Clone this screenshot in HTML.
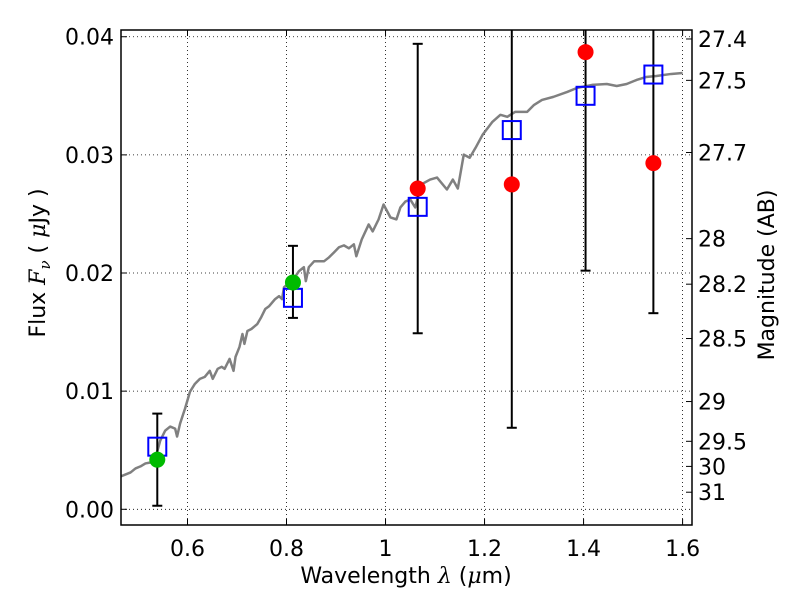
<!DOCTYPE html>
<html><head><meta charset="utf-8"><style>
body{margin:0;background:#fff;}
svg{font-family:"DejaVu Sans","Liberation Sans",sans-serif;}
</style></head><body>
<svg id="chart" width="800" height="600" viewBox="0 0 800 600"></svg>
<script>
const specLam=[0.465,0.475,0.485,0.495,0.505,0.515,0.525,0.535,0.545,0.555,0.565,0.575,0.579,0.585,0.595,0.605,0.615,0.625,0.635,0.645,0.651,0.661,0.669,0.675,0.685,0.693,0.697,0.705,0.711,0.715,0.721,0.729,0.741,0.749,0.757,0.765,0.777,0.785,0.791,0.795,0.805,0.817,0.825,0.835,0.839,0.845,0.856,0.866,0.876,0.886,0.896,0.906,0.916,0.926,0.936,0.941,0.952,0.966,0.974,0.986,0.996,1.010,1.022,1.030,1.040,1.050,1.060,1.072,1.090,1.104,1.124,1.136,1.146,1.158,1.170,1.182,1.196,1.216,1.232,1.246,1.262,1.286,1.300,1.316,1.339,1.367,1.387,1.417,1.447,1.467,1.487,1.507,1.526,1.547,1.577,1.600];
const specFlux=[.00278,.00295,.00312,.00346,.00363,.00388,.00396,.0043,.00582,.00666,.007,.00683,.00616,.00725,.00852,.00995,.01062,.01104,.01121,.01172,.01104,.01189,.01206,.01189,.01273,.01172,.0129,.01374,.01484,.014,.01509,.01526,.01568,.01627,.01695,.0172,.01779,.01804,.01779,.0188,.01914,.01965,.02015,.02049,.01931,.02049,.021,.021,.021,.02133,.02175,.02218,.02234,.02209,.02243,.02142,.02285,.02411,.02352,.02454,.0258,.0247,.02454,.02555,.02605,.02622,.02555,.02749,.02791,.02808,.02707,.02791,.02715,.03002,.02976,.03061,.0317,.0328,.03339,.03322,.03364,.03364,.03423,.03465,.03491,.03533,.03567,.03592,.036,.03583,.036,.03634,.03659,.03668,.03685,.03693];
const greenLam=[0.539,0.813];
const greenFlux=[0.0042,0.0192];
const greenLo=[0.0003,0.0162];
const greenHi=[0.0081,0.0223];
const redLam=[1.065,1.255,1.404,1.541];
const redFlux=[0.02715,0.0275,0.0387,0.0293];
const redLo=[0.0149,0.0069,0.0202,0.0166];
const redHi=[0.0394,0.05,0.05,0.05];
const modelLam=[0.539,0.813,1.065,1.255,1.404,1.541];
const modelFlux=[0.0053,0.0179,0.0256,0.0321,0.0350,0.0368];
const xTicks=[0.6,0.8,1.0,1.2,1.4,1.6];
const xTickLabels=["0.6","0.8","1","1.2","1.4","1.6"];
const yTicks=[0,0.01,0.02,0.03,0.04];
const yTickLabels=["0.00","0.01","0.02","0.03","0.04"];
const magTicks=[27.4,27.5,27.7,28,28.2,28.5,29,29.5,30,31];
const magTickLabels=["27.4","27.5","27.7","28","28.2","28.5","29","29.5","30","31"];

const L=121,R=692,T=30,B=525;
const X0=0.4657,X1=1.619,Y0=-0.00133,Y1=0.04057;
const xs=v=>L+(v-X0)/(X1-X0)*(R-L);
const ys=v=>B-(v-Y0)/(Y1-Y0)*(B-T);
const NS="http://www.w3.org/2000/svg";
const svg=document.getElementById('chart');
function mk(tag,attrs,parent){const e=document.createElementNS(NS,tag);for(const k in attrs)e.setAttribute(k,attrs[k]);(parent||svg).appendChild(e);return e;}
const clipDefs=mk('defs',{});
const cp=mk('clipPath',{id:'pc'},clipDefs);mk('rect',{x:L,y:T,width:R-L,height:B-T},cp);
const plot=mk('g',{'clip-path':'url(#pc)'});


xTicks.forEach(v=>{const g=mk('line',{x1:xs(v),x2:xs(v),y1:T,y2:B,stroke:'#000','stroke-width':0.8,'stroke-dasharray':'1,3'},plot);

});
yTicks.forEach(v=>{const g=mk('line',{x1:L,x2:R,y1:ys(v),y2:ys(v),stroke:'#000','stroke-width':0.8,'stroke-dasharray':'1,3'},plot);

});
const sp=mk('polyline',{points:specLam.map((l,i)=>xs(l)+','+ys(specFlux[i])).join(' '),fill:'none',stroke:'#808080','stroke-width':2.5,'stroke-linejoin':'round'},plot);


function ebar(l,lo,hi,name){const g=mk('g',{},plot);


const x=xs(l);mk('line',{x1:x,x2:x,y1:ys(lo),y2:ys(hi),stroke:'#000','stroke-width':2},g);
mk('line',{x1:x-5,x2:x+5,y1:ys(lo),y2:ys(lo),stroke:'#000','stroke-width':2},g);
mk('line',{x1:x-5,x2:x+5,y1:ys(hi),y2:ys(hi),stroke:'#000','stroke-width':2},g);}
greenLam.forEach((l,i)=>ebar(l,greenLo[i],greenHi[i],'green-errorbar'));
redLam.forEach((l,i)=>ebar(l,redLo[i],redHi[i],'red-errorbar'));
modelLam.forEach((l,i)=>{const r=mk('rect',{x:xs(l)-9,y:ys(modelFlux[i])-9,width:18,height:18,fill:'none',stroke:'#0000ff','stroke-width':2},plot);

});
greenLam.forEach((l,i)=>{const c=mk('circle',{cx:xs(l),cy:ys(greenFlux[i]),r:8,fill:'#00bb00'},plot);

});
redLam.forEach((l,i)=>{const c=mk('circle',{cx:xs(l),cy:ys(redFlux[i]),r:8,fill:'#ff0000'},plot);

});
const fr=mk('rect',{x:L,y:T,width:R-L,height:B-T,fill:'none',stroke:'#000','stroke-width':1.5});


xTicks.forEach((v,i)=>{const x=xs(v);mk('line',{x1:x,x2:x,y1:B,y2:B-6,stroke:'#000'});mk('line',{x1:x,x2:x,y1:T,y2:T+6,stroke:'#000'});
const t=mk('text',{x:x,y:B+31,'font-size':22,'text-anchor':'middle'});t.textContent=xTickLabels[i];

});
yTicks.forEach((v,i)=>{const y=ys(v);mk('line',{x1:L,x2:L+6,y1:y,y2:y,stroke:'#000'});
const t=mk('text',{x:L-7,y:y+8,'font-size':22,'text-anchor':'end'});t.textContent=yTickLabels[i];

});
magTicks.forEach((m,i)=>{const y=ys(Math.pow(10,(23.9-m)/2.5));mk('line',{x1:R,x2:R-6,y1:y,y2:y,stroke:'#000'});
const t=mk('text',{x:R+6,y:y+8,'font-size':22,'text-anchor':'start'});t.textContent=magTickLabels[i];

});
</script>
<svg width="800" height="600" style="position:absolute;left:0;top:0;font-family:'DejaVu Sans','Liberation Sans',sans-serif">
<text x="406" y="583" font-size="22" text-anchor="middle">Wavelength  <tspan font-style="italic" font-family="DejaVu Serif,serif">λ</tspan> (<tspan font-style="italic" font-family="DejaVu Serif,serif">μ</tspan>m)</text>
<text transform="translate(45,263) rotate(-90)" font-size="22" text-anchor="middle">Flux  <tspan font-style="italic" font-family="DejaVu Serif,serif">F</tspan><tspan font-style="italic" font-size="15" dy="5" font-family="DejaVu Serif,serif">ν</tspan><tspan dy="-5">  (  </tspan><tspan font-style="italic" font-family="DejaVu Serif,serif">μ</tspan>Jy )</text>
<text transform="translate(774,275) rotate(-90)" font-size="22" text-anchor="middle">Magnitude (AB)</text>
</svg>
</body></html>
